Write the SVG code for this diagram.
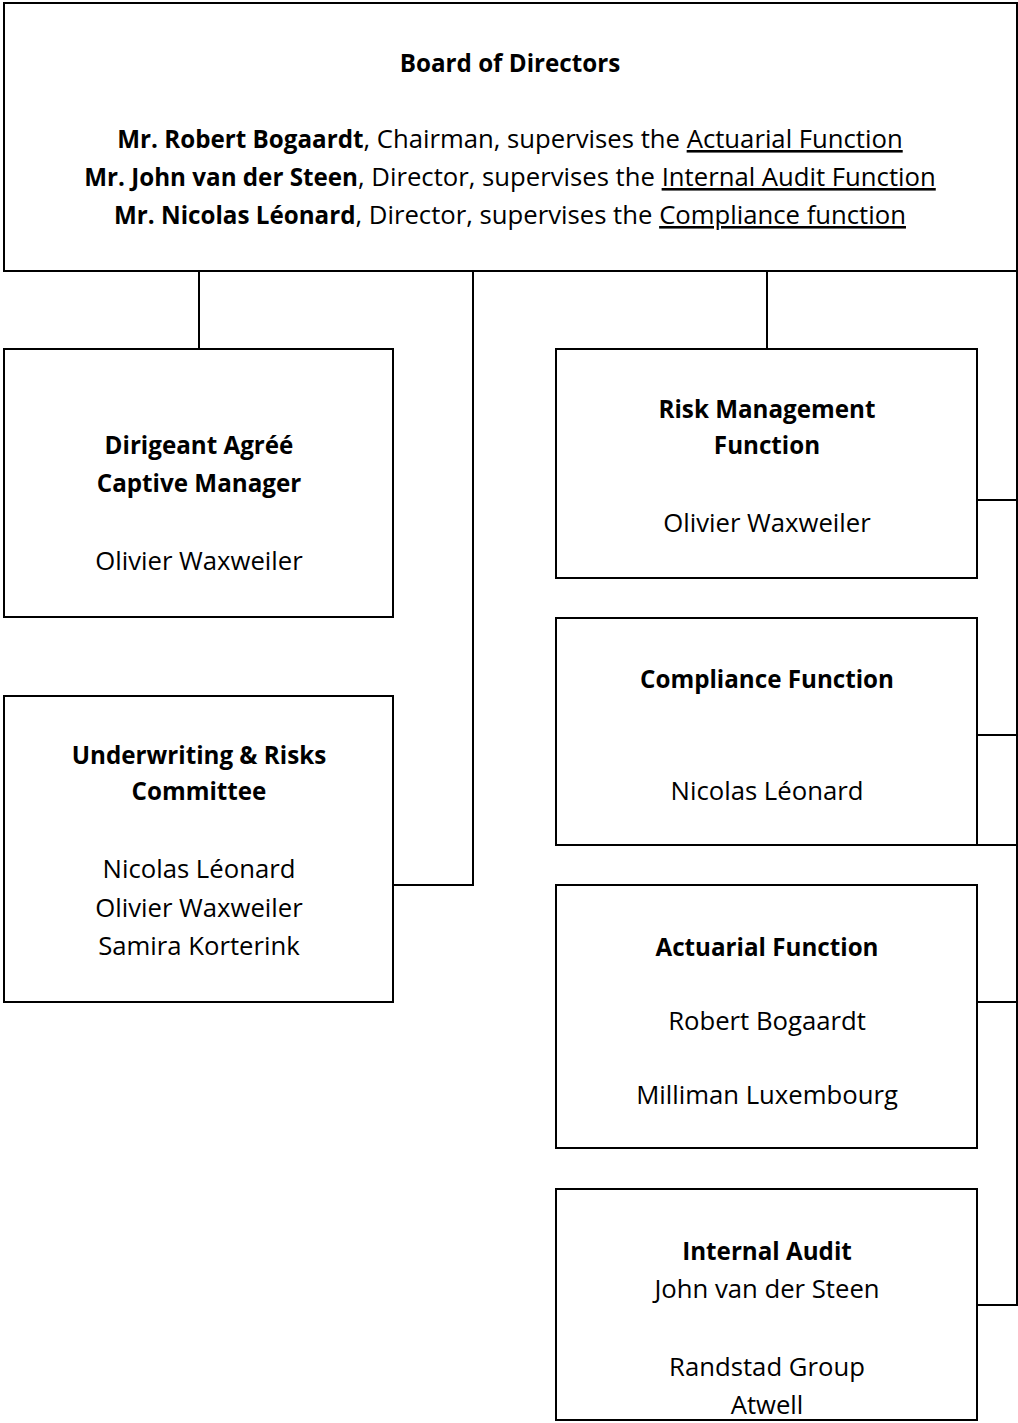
<svg xmlns="http://www.w3.org/2000/svg" width="1018" height="1423" viewBox="0 0 1018 1423">
<style>
.box{fill:#fff;stroke:#000;stroke-width:2}
.c{fill:none;stroke:#000;stroke-width:2}
text{font-family:"Open Sans","Liberation Sans",sans-serif;font-size:25.7px;fill:#000;text-anchor:middle}
.b{font-weight:bold;font-size:24.2px}
.u{text-decoration:underline}
</style>
<rect width="1018" height="1423" fill="#fff"/>
<g id="connectors">
<path class="c" d="M199,271V349"/>
<path class="c" d="M473,271V885H393"/>
<path class="c" d="M767,271V349"/>
<path class="c" d="M1017,271V1305H977"/>
<path class="c" d="M977,500H1017"/>
<path class="c" d="M977,735H1017"/>
<path class="c" d="M977,845H1017"/>
<path class="c" d="M977,1002H1017"/>
</g>
<g id="board">
<rect class="box" x="4" y="3" width="1013" height="268"/>
<text x="510" y="72" class="b">Board of Directors</text>
<text x="510" y="148"><tspan class="b">Mr. Robert Bogaardt</tspan>, Chairman, supervises the <tspan class="u">Actuarial Function</tspan></text>
<text x="510" y="186"><tspan class="b">Mr. John van der Steen</tspan>, Director, supervises the <tspan class="u">Internal Audit Function</tspan></text>
<text x="510" y="224"><tspan class="b">Mr. Nicolas Léonard</tspan>, Director, supervises the <tspan class="u">Compliance function</tspan></text>
</g>
<g id="dirigeant">
<rect class="box" x="4" y="349" width="389" height="268"/>
<text x="199" y="454" class="b">Dirigeant Agréé</text>
<text x="199" y="492" class="b">Captive Manager</text>
<text x="199" y="570">Olivier Waxweiler</text>
</g>
<g id="underwriting">
<rect class="box" x="4" y="696" width="389" height="306"/>
<text x="199" y="764" class="b">Underwriting &amp; Risks</text>
<text x="199" y="800" class="b">Committee</text>
<text x="199" y="878">Nicolas Léonard</text>
<text x="199" y="917">Olivier Waxweiler</text>
<text x="199" y="955">Samira Korterink</text>
</g>
<g id="risk">
<rect class="box" x="556" y="349" width="421" height="229"/>
<text x="767" y="418" class="b">Risk Management</text>
<text x="767" y="454" class="b">Function</text>
<text x="767" y="532">Olivier Waxweiler</text>
</g>
<g id="compliance">
<rect class="box" x="556" y="618" width="421" height="227"/>
<text x="767" y="688" class="b">Compliance Function</text>
<text x="767" y="800">Nicolas Léonard</text>
</g>
<g id="actuarial">
<rect class="box" x="556" y="885" width="421" height="263"/>
<text x="767" y="956" class="b">Actuarial Function</text>
<text x="767" y="1030">Robert Bogaardt</text>
<text x="767" y="1104">Milliman Luxembourg</text>
</g>
<g id="audit">
<rect class="box" x="556" y="1189" width="421" height="231"/>
<text x="767" y="1260" class="b">Internal Audit</text>
<text x="767" y="1298">John van der Steen</text>
<text x="767" y="1376">Randstad Group</text>
<text x="767" y="1414">Atwell</text>
</g>
</svg>
